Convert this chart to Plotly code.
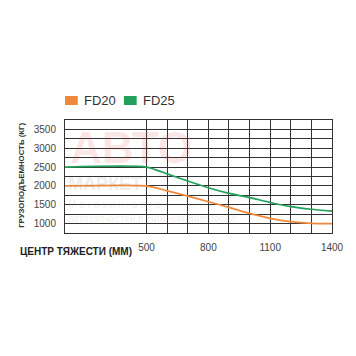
import plotly.graph_objects as go

# Data
series_names = ["FD20", "FD25"]
x_fd20 = [104, 500, 600, 700, 800, 900, 1000, 1100, 1200, 1300, 1400]
y_fd20 = [2000, 2000, 1870, 1730, 1580, 1430, 1270, 1140, 1050, 1005, 1000]
x_fd25 = [104, 500, 600, 700, 800, 900, 1000, 1100, 1200, 1300, 1400]
y_fd25 = [2500, 2500, 2320, 2130, 1950, 1800, 1690, 1560, 1450, 1380, 1330]
x_major = [500, 800, 1100, 1400]
x_minor = [600, 700, 900, 1000, 1200, 1300]
y_ticks = [1000, 1500, 2000, 2500, 3000, 3500]
y_minor = [1250, 1750, 2250, 2750, 3250]

ORANGE = "#ef883a"
GREEN = "#22a05c"
GRID = "#333333"
colors = [ORANGE, GREEN]

L, R, T, B = 65, 19, 120, 123
PW, PH = 356 - L - R, 356 - T - B


def px(x):
    return (x - L) / PW


def py(y):
    return (356 - B - y) / PH


fig = go.Figure()
for xs, ys, c, n in [(x_fd20, y_fd20, ORANGE, series_names[0]), (x_fd25, y_fd25, GREEN, series_names[1])]:
    fig.add_trace(go.Scatter(x=xs, y=ys, mode="lines", name=n,
                             line=dict(color=c, width=1.7, shape="spline", smoothing=0.6), showlegend=False))

# legend (manual)
for i, (n, c) in enumerate(zip(series_names, colors)):
    x0 = 65 + i * 60
    fig.add_shape(type="rect", xref="paper", yref="paper", x0=px(x0), x1=px(x0 + 13), y0=py(105), y1=py(96),
                  fillcolor=c, line=dict(width=0))
    fig.add_annotation(text=n, x=px(x0 + 17), y=py(100.5), xref="paper", yref="paper", xanchor="left",
                       yanchor="middle", showarrow=False, font=dict(size=13, color="#333"))

# watermark
fig.add_annotation(text="<b>АВТО</b>", x=px(68), y=py(121), xref="paper", yref="paper", xanchor="left", yanchor="top",
                   showarrow=False, font=dict(size=44, color="rgba(225,60,60,0.13)", family="Liberation Sans"))
fig.add_annotation(text="<b>МАРКЕТ</b>", x=px(66), y=py(172), xref="paper", yref="paper", xanchor="left", yanchor="top",
                   showarrow=False, font=dict(size=18, color="rgba(120,120,120,0.15)", family="Liberation Sans"))
fig.add_annotation(text="М а г а з и н   а в т о", x=px(66), y=py(197), xref="paper", yref="paper", xanchor="left", yanchor="top",
                   showarrow=False, font=dict(size=10, color="rgba(120,120,120,0.13)", family="Liberation Sans"))
fig.add_annotation(text="автозапчастей в Нижнем Новгороде", x=px(66), y=py(211), xref="paper", yref="paper", xanchor="left", yanchor="top",
                   showarrow=False, font=dict(size=10, color="rgba(120,120,120,0.13)", family="Liberation Sans"))

# axis titles
fig.add_annotation(text="<b>ГРУЗОПОДЪЕМНОСТЬ (КГ)</b>", x=px(20), y=py(175), xref="paper", yref="paper",
                   xanchor="center", yanchor="middle", showarrow=False, textangle=-90,
                   font=dict(size=7.8, color="#333"))
fig.add_annotation(text="<b>ЦЕНТР ТЯЖЕСТИ (ММ)</b>", x=px(17), y=py(251), xref="paper", yref="paper", xanchor="left",
                   yanchor="middle", showarrow=False, font=dict(size=10, color="#222"))

fig.update_layout(
    width=356, height=356,
    margin=dict(l=L, r=R, t=T, b=B),
    paper_bgcolor="white", plot_bgcolor="white",
    font=dict(family="Liberation Sans, Arial, sans-serif", color="#333"),
    showlegend=False,
    xaxis=dict(range=[104, 1400], tickmode="array", tickvals=x_major, ticktext=[str(v) for v in x_major],
               showgrid=True, gridcolor=GRID, gridwidth=1, showline=True, linecolor=GRID, linewidth=1, mirror=True,
               ticks="", tickfont=dict(size=10, color="#444"), zeroline=False, ticklabelstandoff=5,
               minor=dict(tickmode="array", tickvals=x_minor, showgrid=True, gridcolor=GRID, gridwidth=1)),
    yaxis=dict(range=[750, 3750], tickmode="array", tickvals=y_ticks, ticktext=[str(v) for v in y_ticks],
               showgrid=True, gridcolor=GRID, gridwidth=1, showline=True, linecolor=GRID, linewidth=1, mirror=True,
               ticks="", tickfont=dict(size=10, color="#444"), zeroline=False, ticklabelstandoff=6,
               minor=dict(tickmode="array", tickvals=y_minor, showgrid=True, gridcolor=GRID, gridwidth=1)),
)

fig.write_html("out.html")
